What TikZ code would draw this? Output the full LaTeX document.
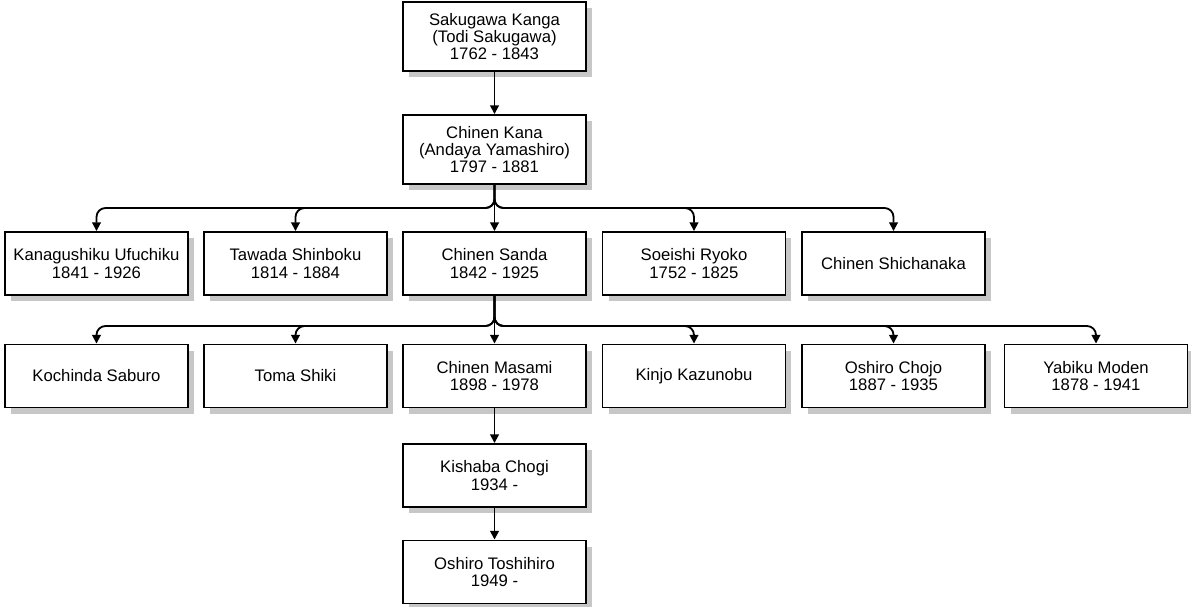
\documentclass[tikz,border=0pt]{standalone}
\usepackage{fontspec}
\setmainfont{Liberation Sans}
\usetikzlibrary{arrows.meta,shadows}
\tikzset{every node/.style={font=\fontsize{9.5}{9.8}\selectfont}}
\tikzset{person/.style={draw, line width=1.1pt, fill=white, align=center, inner sep=2pt,
    minimum width=3.66cm, minimum height=1.26cm,
    drop shadow={shadow xshift=0.12cm, shadow yshift=-0.12cm, fill=black!22, opacity=1}},
  elder/.style={person, minimum height=1.38cm},
  link/.style={line width=1.05pt, rounded corners=0.18cm, -{Triangle[width=5pt,length=5pt]}}}

\begin{document}
\begin{tikzpicture}[x=0.02cm,y=-0.02cm]
   \useasboundingbox (0,0) rectangle (1191,606);
   % founders
   \node[elder] (sakugawa) at (494.5,36.5) {Sakugawa Kanga\\(Todi Sakugawa)\\1762 - 1843};
   \node[elder] (kana) at (494.5,149.5) {Chinen Kana\\(Andaya Yamashiro)\\1797 - 1881};
   % first row
   \node[person] (ufuchiku) at (96.5,263.5) {Kanagushiku Ufuchiku\\1841 - 1926};
   \node[person] (shinboku) at (295.5,263.5) {Tawada Shinboku\\1814 - 1884};
   \node[person] (sanda) at (494.5,263.5) {Chinen Sanda\\1842 - 1925};
   \node[person] (ryoko) at (694,263.5) {Soeishi Ryoko\\1752 - 1825};
   \node[person] (shichanaka) at (893.5,263.5) {Chinen Shichanaka};
   % second row
   \node[person] (saburo) at (96.5,376) {Kochinda Saburo};
   \node[person] (shiki) at (295.5,376) {Toma Shiki};
   \node[person] (masami) at (494.5,376) {Chinen Masami\\1898 - 1978};
   \node[person] (kazunobu) at (694,376) {Kinjo Kazunobu};
   \node[person] (chojo) at (893.5,376) {Oshiro Chojo\\1887 - 1935};
   \node[person] (moden) at (1096,376) {Yabiku Moden\\1878 - 1941};
   % line of Masami
   \node[person] (chogi) at (494.5,475.5) {Kishaba Chogi\\1934 -};
   \node[person] (toshihiro) at (494.5,572) {Oshiro Toshihiro\\1949 -};

   \coordinate (bus1) at (0,208);
   \coordinate (bus2) at (0,326);

   \draw[link] (sakugawa.south) -- (kana.north);
   \foreach \c in {ufuchiku,shinboku,ryoko,shichanaka}
     \draw[link] (kana.south) -- (kana.south |- bus1) -| (\c.north);
   \draw[link] (kana.south) -- (sanda.north);
   \foreach \c in {saburo,shiki,kazunobu,chojo,moden}
     \draw[link] (sanda.south) -- (sanda.south |- bus2) -| (\c.north);
   \draw[link] (sanda.south) -- (masami.north);
   \draw[link] (masami.south) -- (chogi.north);
   \draw[link] (chogi.south) -- (toshihiro.north);
\end{tikzpicture}
\end{document}
